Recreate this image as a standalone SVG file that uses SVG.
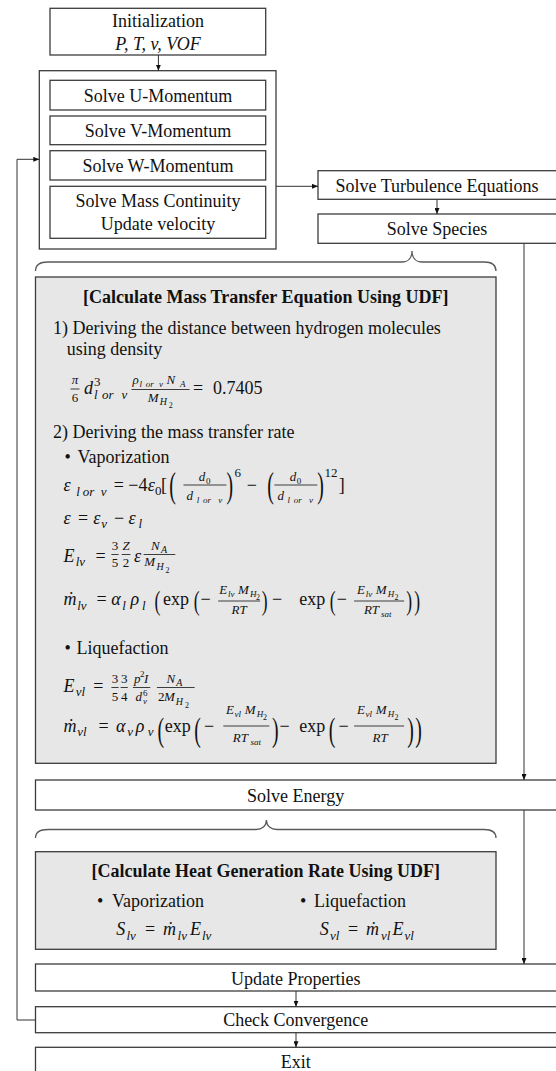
<svg xmlns="http://www.w3.org/2000/svg" width="556" height="1071" viewBox="0 0 556 1071">
<style>
.tx{font-family:"Liberation Serif","Times New Roman",serif;font-size:18px;fill:#111}
.bd{font-weight:bold}
.c{text-anchor:middle}
.mi{font-family:"Liberation Serif","Times New Roman",serif;font-style:italic;font-size:18px;fill:#111}
.mr{font-family:"Liberation Serif","Times New Roman",serif;font-size:18px;fill:#111}
.s13{font-size:13px}.s10{font-size:10px}.s9{font-size:9px}.s8{font-size:8px}
.p36{font-size:36px}.p27{font-size:27px}.p33{font-size:33px}
.bx{fill:#fff;stroke:#3c3c3c;stroke-width:1.3}
.gb{fill:#e7e7e7;stroke:#3c3c3c;stroke-width:1.3}
.fl{stroke:#111;stroke-width:0.8}
.cn{fill:none;stroke:#333;stroke-width:1}
.br{fill:none;stroke:#5a5a5a;stroke-width:1.3}
</style>
<defs>
<marker id="ah" markerWidth="6" markerHeight="5" refX="6" refY="2.5" orient="auto" markerUnits="userSpaceOnUse"><path d="M0,0 L6,2.5 L0,5 z" fill="#111"/></marker>
</defs>
<rect width="556" height="1071" fill="#fff"/>

<g id="init">
<rect class="bx" x="50" y="8.3" width="215.7" height="46.7"/>
<text class="tx c" x="158" y="27">Initialization</text>
<text class="mi c" x="158" y="50">P, T, v, VOF</text>
</g>

<g id="momentum-block">
<rect class="bx" x="39.3" y="70.7" width="236.7" height="178.3"/>
</g>
<g id="u-momentum">
<rect class="bx" x="50" y="80.3" width="215.7" height="29.7"/>
<text class="tx c" x="158" y="101.7">Solve U-Momentum</text>
</g>
<g id="v-momentum">
<rect class="bx" x="50" y="116" width="215.7" height="28.7"/>
<text class="tx c" x="158" y="137.3">Solve V-Momentum</text>
</g>
<g id="w-momentum">
<rect class="bx" x="50" y="150.7" width="215.7" height="29.3"/>
<text class="tx c" x="158" y="171.7">Solve W-Momentum</text>
</g>
<g id="mass-continuity">
<rect class="bx" x="50" y="186.3" width="215.7" height="52"/>
<text class="tx c" x="158" y="207.3">Solve Mass Continuity</text>
<text class="tx c" x="158" y="229.5">Update velocity</text>
</g>

<g id="turbulence">
<rect class="bx" x="318" y="170.7" width="245" height="28.6"/>
<text class="tx c" x="437" y="191.5">Solve Turbulence Equations</text>
</g>
<g id="species">
<rect class="bx" x="318" y="214" width="245" height="29.3"/>
<text class="tx c" x="437" y="235">Solve Species</text>
</g>

<g id="brace-mass">
<path class="br" d="M35.5,271 C35.5,265 40,262 48,262 L402,262 C408,262 412,258 412,251 C412,258 416,262 422,262 L484,262 C492,262 496,265 496,271"/>
</g>

<g id="mass-transfer-udf">
<rect class="gb" x="35.5" y="277" width="460.5" height="486.3"/>
<text class="tx bd c" x="265.7" y="303">[Calculate Mass Transfer Equation Using UDF]</text>
<text class="tx" x="53" y="334">1) Deriving the distance between hydrogen molecules</text>
<text class="tx" x="66.7" y="355">using density</text>
<!-- eq 1 -->
<text class="mi s13 c" x="75" y="384">π</text>
<line class="fl" x1="70.5" y1="389" x2="79.5" y2="389"/>
<text class="mr s13 c" x="75" y="402">6</text>
<text class="mi" x="84" y="393.5">d</text>
<text class="mr s13" x="94" y="385.5">3</text>
<text class="mi s13" y="399"><tspan x="94">l</tspan><tspan x="102">or</tspan><tspan x="121.5">v</tspan></text>
<text class="mi s13" y="384"><tspan x="132.4">ρ</tspan><tspan x="166.6">N</tspan></text>
<text class="mi s9" y="387"><tspan x="139.5">l</tspan><tspan x="145.7">or</tspan><tspan x="159">v</tspan><tspan x="179.9">A</tspan></text>
<line class="fl" x1="131.4" y1="389.5" x2="189.6" y2="389.5"/>
<text class="mi s13" x="147.7" y="402">M</text>
<text class="mi s10" x="159.7" y="405">H</text>
<text class="mr s8" x="168.7" y="408">2</text>
<text class="mr" x="193" y="394">=</text>
<text class="mr" x="213" y="394">0.7405</text>

<text class="tx" x="53" y="438">2) Deriving the mass transfer rate</text>
<text class="tx" x="64.5" y="462.7">•<tspan x="77.5">Vaporization</tspan></text>

<!-- eps l or v -->
<text class="mi" x="63.6" y="491">ε</text>
<text class="mi s13" y="496"><tspan x="76.2">l</tspan><tspan x="82.8">or</tspan><tspan x="100.7">v</tspan></text>
<text class="mr" x="113.7" y="491">=</text>
<text class="mr" x="128.3" y="491">−4</text>
<text class="mi" x="147.7" y="491">ε</text>
<text class="mr s13" x="154.9" y="495">0</text>
<text class="mr" x="161" y="491">[</text>
<text class="mr p36" transform="translate(169.2,497) scale(0.55,1)">(</text>
<text class="mi s13" x="198.8" y="481">d</text>
<text class="mr s9" x="206" y="483.5">0</text>
<line class="fl" x1="183.5" y1="485" x2="226.4" y2="485"/>
<text class="mi s13" x="186.5" y="500">d</text>
<text class="mi s9" y="503"><tspan x="196.7">l</tspan><tspan x="202.9">or</tspan><tspan x="218.2">v</tspan></text>
<text class="mr p36" transform="translate(226.4,497) scale(0.55,1)">)</text>
<text class="mr s13" x="234.5" y="477">6</text>
<text class="mr" x="246.8" y="491">−</text>
<text class="mr p36" transform="translate(267.2,497) scale(0.55,1)">(</text>
<text class="mi s13" x="289.7" y="481">d</text>
<text class="mr s9" x="296.8" y="483.5">0</text>
<line class="fl" x1="274.4" y1="485" x2="317.3" y2="485"/>
<text class="mi s13" x="277.4" y="500">d</text>
<text class="mi s9" y="503"><tspan x="287.6">l</tspan><tspan x="293.8">or</tspan><tspan x="309.1">v</tspan></text>
<text class="mr p36" transform="translate(317.3,497) scale(0.55,1)">)</text>
<text class="mr s13" x="324.4" y="477">12</text>
<text class="mr" x="338.7" y="491">]</text>

<!-- eps = eps_v - eps_l -->
<text class="mi" x="63.6" y="523.5">ε</text>
<text class="mr" x="78" y="523.5">=</text>
<text class="mi" x="93.3" y="523.5">ε</text>
<text class="mi s13" x="101.2" y="528">v</text>
<text class="mr" x="114" y="523.5">−</text>
<text class="mi" x="128.5" y="523.5">ε</text>
<text class="mi s13" x="138.5" y="528">l</text>

<!-- E_lv -->
<text class="mi" x="63.6" y="561.5">E</text>
<text class="mi s13" x="75.7" y="566">lv</text>
<text class="mr" x="95.6" y="561.5">=</text>
<text class="mr s13 c" x="115" y="550">3</text>
<line class="fl" x1="111.4" y1="554.5" x2="118.6" y2="554.5"/>
<text class="mr s13 c" x="115" y="567">5</text>
<text class="mi s13 c" x="126" y="550">Z</text>
<line class="fl" x1="121.7" y1="554.5" x2="130.4" y2="554.5"/>
<text class="mr s13 c" x="126" y="567">2</text>
<text class="mi" x="134.1" y="561.5">ε</text>
<text class="mi s13" x="151.1" y="550">N</text>
<text class="mi s10" x="161" y="553">A</text>
<line class="fl" x1="143.6" y1="554.5" x2="175.3" y2="554.5"/>
<text class="mi s13" x="144.3" y="566">M</text>
<text class="mi s10" x="156.4" y="569.5">H</text>
<text class="mr s8" x="165.6" y="573">2</text>

<!-- mdot_lv -->
<text class="mi" x="63.6" y="605">ṁ</text>
<text class="mi s13" x="77.2" y="609.5">lv</text>
<text class="mr" x="96.6" y="605">=</text>
<text class="mi" x="111.2" y="605">α</text>
<text class="mi s13" x="122.2" y="609.5">l</text>
<text class="mi" x="130.6" y="605">ρ</text>
<text class="mi s13" x="141.9" y="609.5">l</text>
<text class="mr p27" transform="translate(154.5,610) scale(0.65,1)">(</text>
<text class="mr" x="163" y="605">exp</text>
<text class="mr p27" transform="translate(193.7,610) scale(0.65,1)">(</text>
<text class="mr" x="200.5" y="605">−</text>
<text class="mi s13" x="219.2" y="594">E</text>
<text class="mi s9" x="227.9" y="597">lv</text>
<text class="mi s13" x="237.9" y="594">M</text>
<text class="mi s9" x="249.9" y="597">H</text>
<text class="mr s8" x="256" y="600">2</text>
<line class="fl" x1="218.2" y1="601" x2="260.1" y2="601"/>
<text class="mi s13 c" x="239.1" y="613.5">RT</text>
<text class="mr p27" transform="translate(261.8,610) scale(0.65,1)">)</text>
<text class="mr" x="272" y="605">−</text>
<text class="mr" x="299.2" y="605">exp</text>
<text class="mr p27" transform="translate(329.8,610) scale(0.65,1)">(</text>
<text class="mr" x="336.7" y="605">−</text>
<text class="mi s13" x="357.1" y="594">E</text>
<text class="mi s9" x="365.8" y="597">lv</text>
<text class="mi s13" x="375.8" y="594">M</text>
<text class="mi s9" x="387.8" y="597">H</text>
<text class="mr s8" x="394.4" y="600">2</text>
<line class="fl" x1="354.1" y1="601" x2="404.1" y2="601"/>
<text class="mi s13" x="363.9" y="613.5">RT</text>
<text class="mi s9" x="381.1" y="616.5">sat</text>
<text class="mr p27" transform="translate(406.2,610) scale(0.65,1)">)</text>
<text class="mr p27" transform="translate(414.3,610) scale(0.65,1)">)</text>

<text class="tx" x="64.5" y="654.3">•<tspan x="76.5">Liquefaction</tspan></text>

<!-- E_vl -->
<text class="mi" x="63.6" y="691.7">E</text>
<text class="mi s13" x="75.7" y="696">vl</text>
<text class="mr" x="93.3" y="691.7">=</text>
<text class="mr s13 c" x="115" y="683">3</text>
<line class="fl" x1="111.4" y1="687.5" x2="118.6" y2="687.5"/>
<text class="mr s13 c" x="115" y="701">5</text>
<text class="mr s13 c" x="124.2" y="683">3</text>
<line class="fl" x1="120.6" y1="687.5" x2="127.8" y2="687.5"/>
<text class="mr s13 c" x="124.2" y="701">4</text>
<text class="mi s13" x="134.1" y="683">p</text>
<text class="mr s9" x="140.1" y="677">2</text>
<text class="mi s13" x="144.1" y="683">I</text>
<line class="fl" x1="132.9" y1="687.5" x2="150.3" y2="687.5"/>
<text class="mi s13" x="135.4" y="701">d</text>
<text class="mr s9" x="143.1" y="696">6</text>
<text class="mi s9" x="143.1" y="704">v</text>
<text class="mi s13" x="166.4" y="683">N</text>
<text class="mi s10" x="176.3" y="686">A</text>
<line class="fl" x1="156.9" y1="687.5" x2="194.7" y2="687.5"/>
<text class="mr s13" x="157.9" y="701">2</text>
<text class="mi s13" x="164.1" y="701">M</text>
<text class="mi s10" x="175.8" y="704.5">H</text>
<text class="mr s8" x="185" y="708">2</text>

<!-- mdot_vl -->
<text class="mi" x="63.6" y="731.7">ṁ</text>
<text class="mi s13" x="77.2" y="736.2">vl</text>
<text class="mr" x="98.4" y="731.7">=</text>
<text class="mi" x="116" y="731.7">α</text>
<text class="mi s13" x="127.3" y="736.2">v</text>
<text class="mi" x="135.8" y="731.7">ρ</text>
<text class="mi s13" x="147.7" y="736.2">v</text>
<text class="mr p33" transform="translate(157.4,741) scale(0.6,1)">(</text>
<text class="mr" x="164.8" y="731.7">exp</text>
<text class="mr p33" transform="translate(194.2,741) scale(0.6,1)">(</text>
<text class="mr" x="203.9" y="731.7">−</text>
<text class="mi s13" x="226.1" y="714">E</text>
<text class="mi s9" x="234.5" y="717">vl</text>
<text class="mi s13" x="244.8" y="714">M</text>
<text class="mi s9" x="256.7" y="717">H</text>
<text class="mr s8" x="263.1" y="720">2</text>
<line class="fl" x1="223.3" y1="726" x2="269.3" y2="726"/>
<text class="mi s13" x="232.8" y="741.7">RT</text>
<text class="mi s9" x="250.4" y="744.7">sat</text>
<text class="mr p33" transform="translate(272,741) scale(0.6,1)">)</text>
<text class="mr" x="279.5" y="731.7">−</text>
<text class="mr" x="299.2" y="731.7">exp</text>
<text class="mr p33" transform="translate(328.8,741) scale(0.6,1)">(</text>
<text class="mr" x="338.4" y="731.7">−</text>
<text class="mi s13" x="357.1" y="714">E</text>
<text class="mi s9" x="365.6" y="717">vl</text>
<text class="mi s13" x="375.8" y="714">M</text>
<text class="mi s9" x="387.8" y="717">H</text>
<text class="mr s8" x="394.4" y="720">2</text>
<line class="fl" x1="354.1" y1="726" x2="404.1" y2="726"/>
<text class="mi s13 c" x="380.1" y="741.7">RT</text>
<text class="mr p33" transform="translate(407.2,741) scale(0.6,1)">)</text>
<text class="mr p33" transform="translate(415.3,741) scale(0.6,1)">)</text>
</g>

<g id="energy">
<rect class="bx" x="35.5" y="780" width="525" height="30"/>
<text class="tx c" x="295.7" y="802">Solve Energy</text>
</g>

<g id="brace-energy">
<path class="br" d="M35.5,838 C35.5,832.5 40,829.5 48,829.5 L256,829.5 C262,829.5 266.4,826 266.4,820 C266.4,826 271,829.5 277,829.5 L484,829.5 C492,829.5 496,832.5 496,838"/>
</g>

<g id="heat-udf">
<rect class="gb" x="35.5" y="851.7" width="460.5" height="97.6"/>
<text class="tx bd c" x="265.7" y="876.7">[Calculate Heat Generation Rate Using UDF]</text>
<text class="tx" x="97" y="907.3">•<tspan x="112">Vaporization</tspan></text>
<text class="tx" x="300" y="907.3">•<tspan x="314">Liquefaction</tspan></text>
<text class="mi" x="116.2" y="935">S</text>
<text class="mi s13" x="126.5" y="939.5">lv</text>
<text class="mr" x="145" y="935">=</text>
<text class="mi" x="163" y="935">ṁ</text>
<text class="mi s13" x="177.6" y="939.5">lv</text>
<text class="mi" x="190" y="935">E</text>
<text class="mi s13" x="202" y="939.5">lv</text>
<text class="mi" x="319.7" y="935">S</text>
<text class="mi s13" x="330" y="939.5">vl</text>
<text class="mr" x="348" y="935">=</text>
<text class="mi" x="366" y="935">ṁ</text>
<text class="mi s13" x="381" y="939.5">vl</text>
<text class="mi" x="392.5" y="935">E</text>
<text class="mi s13" x="404.5" y="939.5">vl</text>
</g>

<g id="update-properties">
<rect class="bx" x="35.5" y="964" width="525" height="27"/>
<text class="tx c" x="295.7" y="985">Update Properties</text>
</g>
<g id="check-convergence">
<rect class="bx" x="35.5" y="1006.7" width="525" height="26"/>
<text class="tx c" x="295.7" y="1026">Check Convergence</text>
</g>
<g id="exit">
<rect class="bx" x="35.5" y="1047.3" width="525" height="30"/>
<text class="tx c" x="295.7" y="1067.5">Exit</text>
</g>

<g id="connectors">
<line class="cn" x1="158.4" y1="55" x2="158.4" y2="70.7" marker-end="url(#ah)"/>
<line class="cn" x1="276" y1="186.3" x2="318" y2="186.3" marker-end="url(#ah)"/>
<line class="cn" x1="437" y1="199.3" x2="437" y2="214" marker-end="url(#ah)"/>
<line class="cn" x1="524" y1="243.3" x2="524" y2="780" marker-end="url(#ah)"/>
<line class="cn" x1="524" y1="810" x2="524" y2="964" marker-end="url(#ah)"/>
<line class="cn" x1="296" y1="991" x2="296" y2="1006.7" marker-end="url(#ah)"/>
<line class="cn" x1="296" y1="1032.7" x2="296" y2="1047.3" marker-end="url(#ah)"/>
<path class="cn" d="M35.5,1020 H17 V159.3 H39.3" marker-end="url(#ah)"/>
</g>
</svg>
